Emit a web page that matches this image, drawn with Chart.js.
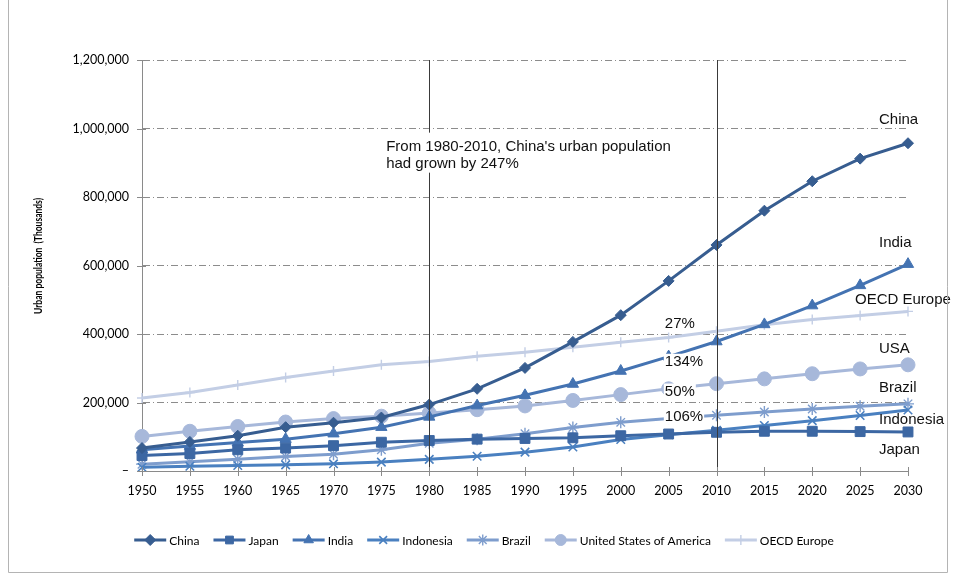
<!DOCTYPE html>
<html>
<head>
<meta charset="utf-8">
<script src="https://cdn.jsdelivr.net/npm/chart.js@4.4.1/dist/chart.umd.min.js"></script>
<style>
  html, body { margin: 0; padding: 0; background: #ffffff; }
  canvas { display: block; }
</style>
</head>
<body>
<canvas id="chart" width="954" height="575"></canvas>
<script>
// Urban population by country/region, thousands
const years = ['1950','1955','1960','1965','1970','1975','1980','1985','1990','1995','2000','2005','2010','2015','2020','2025','2030'];
const china     = [67000, 85000, 103000, 128000, 141000, 156000, 194000, 240000, 301000, 377000, 455000, 555000, 660000, 760000, 846000, 912000, 957000];
const japan     = [45000, 51000, 62000, 67000, 74000, 84000, 89000, 93000, 95000, 97000, 103000, 108000, 113000, 116000, 116000, 115000, 114000];
const india     = [62000, 73000, 83000, 93000, 109000, 128000, 158000, 191000, 221000, 254000, 292000, 334000, 378000, 428000, 483000, 542000, 604000];
const indonesia = [11000, 14000, 16000, 18000, 21000, 26000, 34000, 43000, 55000, 70000, 92000, 106000, 119000, 133000, 147000, 162000, 178000];
const brazil    = [20000, 27000, 34000, 42000, 49000, 62000, 81000, 93000, 109000, 127000, 142000, 153000, 163000, 172000, 181000, 189000, 196000];
const usa       = [101000, 116000, 130000, 143000, 153000, 160000, 169000, 179000, 190000, 206000, 223000, 240000, 255000, 269000, 284000, 298000, 310000];
const oecdEurope= [213000, 229000, 251000, 273000, 292000, 310000, 320000, 335000, 347000, 361000, 376000, 390000, 408000, 427000, 442000, 454000, 466000];

const seriesNames = ['China', 'Japan', 'India', 'Indonesia', 'Brazil', 'United States of America', 'OECD Europe'];
const yTickValues = [0, 200000, 400000, 600000, 800000, 1000000, 1200000];

// Series names written beside the line ends: [text, value]
const endLabels = [
  ['China', 1026000], ['India', 667000], ['OECD Europe', 500000], ['USA', 357000],
  ['Brazil', 243000], ['Indonesia', 150000], ['Japan', 62000]
];
// 1980-2010 growth labels: [text, value]
const growthLabels = [['27%', 430000], ['134%', 319000], ['50%', 232000], ['106%', 158000]];
const noteLines = ["From 1980-2010, China's urban population", 'had grown by 247%'];
const markerYears = ['1980', '2010'];

const LATO = 'Lato, "Open Sans", sans-serif';
const ARIAL = '"Liberation Sans", Arial, sans-serif';

function series(label, data, color, pointStyle, radius, bw) {
  return {
    label, data,
    borderColor: color, backgroundColor: color,
    pointBackgroundColor: color, pointBorderColor: color,
    pointStyle, pointRadius: radius, pointHoverRadius: radius,
    pointBorderWidth: bw, borderWidth: 3, tension: 0, fill: false
  };
}

const datasets = [
  series(seriesNames[0], china,      '#375d90', 'rectRot',  5.5, 1),
  series(seriesNames[1], japan,      '#3c67a3', 'rect',     7,   1),
  series(seriesNames[2], india,      '#4473b2', 'triangle', 6.5, 1),
  series(seriesNames[3], indonesia,  '#4a80c0', 'crossRot', 6,   1.6),
  series(seriesNames[4], brazil,     '#7e9dcd', 'star',     6,   1.4),
  series(seriesNames[5], usa,        '#a7b8da', 'circle',   7,   1),
  series(seriesNames[6], oecdEurope, '#c3cee5', 'cross',    5,   1.4)
];

function drawMarker(ctx, style, r, bw, x, y) {
  if (Chart.helpers && Chart.helpers.drawPoint) {
    Chart.helpers.drawPoint(ctx, { pointStyle: style, radius: r, rotation: 0, borderWidth: bw }, x, y);
  }
}

const overlay = {
  id: 'overlay',
  afterDatasetsDraw(chart) {
    const ctx = chart.ctx;
    const xs = chart.scales.x, ys = chart.scales.y;
    const area = chart.chartArea;
    ctx.save();
    // vertical reference lines
    ctx.strokeStyle = '#3a3a3a';
    ctx.lineWidth = 1;
    markerYears.forEach(yr => {
      const px = Math.round(xs.getPixelForValue(years.indexOf(yr))) + 0.5;
      ctx.beginPath();
      ctx.moveTo(px, area.top);
      ctx.lineTo(px, area.bottom);
      ctx.stroke();
    });

    // note box
    ctx.font = '15px ' + ARIAL;
    ctx.textBaseline = 'middle';
    ctx.textAlign = 'left';
    const noteX = xs.getPixelForValue(5.1);
    const noteY = ys.getPixelForValue(947000);
    const noteW = Math.max(...noteLines.map(t => ctx.measureText(t).width));
    ctx.fillStyle = '#ffffff';
    ctx.fillRect(noteX - 3, noteY - 14, noteW + 6, 40);
    ctx.fillStyle = '#111111';
    noteLines.forEach((t, i) => ctx.fillText(t, noteX, noteY + i * 17));

    // growth labels with white backing
    const gx = xs.getPixelForValue(10.92);
    growthLabels.forEach(([t, v]) => {
      const py = ys.getPixelForValue(v);
      const w = ctx.measureText(t).width;
      ctx.fillStyle = '#ffffff';
      ctx.fillRect(gx - 1, py - 8, w + 2, 16);
      ctx.fillStyle = '#111111';
      ctx.fillText(t, gx, py);
    });

    // series names at the right
    const endX = xs.getPixelForValue(years.length - 1);
    endLabels.forEach(([t, v]) => {
      const px = t === 'OECD Europe' ? endX - 53 : endX - 29;
      ctx.fillStyle = '#111111';
      ctx.fillText(t, px, ys.getPixelForValue(v));
    });
    ctx.restore();
  },
  afterDraw(chart) {
    const ctx = chart.ctx;
    const xs = chart.scales.x, ys = chart.scales.y;
    const area = chart.chartArea;
    ctx.save();
    // cross tick marks on both axes
    ctx.strokeStyle = '#8a8a8a';
    ctx.lineWidth = 1;
    ys.ticks.forEach((tk, i) => {
      const py = Math.round(ys.getPixelForTick(i)) + 0.5;
      ctx.beginPath();
      ctx.moveTo(area.left - 5, py);
      ctx.lineTo(area.left + 4, py);
      ctx.stroke();
    });
    xs.ticks.forEach((tk, i) => {
      const px = Math.round(xs.getPixelForTick(i)) + 0.5;
      ctx.beginPath();
      ctx.moveTo(px, area.bottom - 4);
      ctx.lineTo(px, area.bottom + 5);
      ctx.stroke();
    });

    // y axis title, condensed to the axis-title length
    const title = 'Urban population  (Thousands)';
    ctx.font = 'bold 11px ' + LATO;
    const tw = ctx.measureText(title).width;
    ctx.translate(38, 256);
    ctx.rotate(-Math.PI / 2);
    ctx.scale(Math.min(1, 116 / tw), 1);
    ctx.fillStyle = '#000000';
    ctx.textAlign = 'center';
    ctx.textBaseline = 'middle';
    ctx.fillText(title, 0, 0);
    ctx.setTransform(1, 0, 0, 1, 0, 0);

    // legend
    ctx.font = '12px ' + LATO;
    const sample = 32, gapText = 3, gapItem = 14;
    const items = chart.data.datasets.map(ds => ({ ds, w: sample + gapText + ctx.measureText(ds.label).width }));
    const total = items.reduce((s, it) => s + it.w, 0) + gapItem * (items.length - 1);
    let lx = 484 - total / 2;
    const ly = 540;
    items.forEach(({ ds, w }) => {
      ctx.strokeStyle = ds.borderColor;
      ctx.fillStyle = ds.borderColor;
      ctx.lineWidth = 3;
      ctx.beginPath();
      ctx.moveTo(lx, ly);
      ctx.lineTo(lx + sample, ly);
      ctx.stroke();
      ctx.lineWidth = ds.pointBorderWidth;
      drawMarker(ctx, ds.pointStyle, Math.min(ds.pointRadius, 5.5), ds.pointBorderWidth, lx + sample / 2, ly);
      ctx.fillStyle = '#000000';
      ctx.textAlign = 'left';
      ctx.textBaseline = 'middle';
      ctx.fillText(ds.label, lx + sample + gapText, ly + 1);
      lx += w + gapItem;
    });

    // outer frame (left, right, bottom)
    ctx.strokeStyle = '#b4b4b4';
    ctx.lineWidth = 1;
    ctx.beginPath();
    ctx.moveTo(8.5, 0);
    ctx.lineTo(8.5, 572.5);
    ctx.lineTo(947.5, 572.5);
    ctx.lineTo(947.5, 0);
    ctx.stroke();
    ctx.restore();
  }
};

new Chart(document.getElementById('chart'), {
  type: 'line',
  data: { labels: years, datasets },
  plugins: [overlay],
  options: {
    responsive: false,
    animation: false,
    devicePixelRatio: 1,
    layout: { padding: { left: 0, top: 60, right: 46, bottom: 0 } },
    plugins: { legend: { display: false }, tooltip: { enabled: false } },
    scales: {
      x: {
        type: 'category',
        offset: false,
        grid: { display: false, drawTicks: false },
        border: { display: true, color: '#8a8a8a', width: 1 },
        ticks: { font: { family: LATO, size: 12.5 }, color: '#000000', padding: 12, maxRotation: 0, autoSkip: false },
        afterFit(s) { s.height = 104; s.paddingLeft = 0; s.paddingRight = 0; }
      },
      y: {
        min: 0, max: 1200000,
        afterBuildTicks(s) { s.ticks = yTickValues.map(v => ({ value: v })); },
        grid: {
          drawTicks: false,
          color: ctx => (ctx.tick && ctx.tick.value === 0) ? 'rgba(0,0,0,0)' : '#8c8c8c',
          lineWidth: 1
        },
        border: { display: true, color: '#8a8a8a', width: 1, dash: [7, 3, 1, 3] },
        ticks: {
          font: { family: LATO, size: 12.5 }, color: '#000000', padding: 13,
          callback: v => v === 0 ? '\u2013' : v.toLocaleString('en-US')
        },
        afterFit(s) { s.width = 142; s.paddingTop = 0; s.paddingBottom = 0; }
      }
    }
  }
});
</script>
</body>
</html>
